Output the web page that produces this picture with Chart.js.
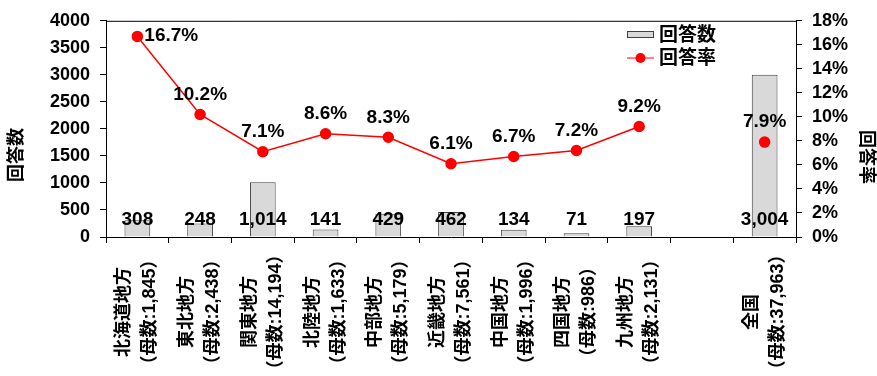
<!DOCTYPE html>
<html>
<head>
<meta charset="utf-8">
<script src="https://cdn.jsdelivr.net/npm/chart.js@4.4.1/dist/chart.umd.min.js"></script>
<style>
  body { margin: 0; background: #fff; }
  #wrap { width: 877px; height: 376px; position: relative; }
</style>
</head>
<body>
<div id="wrap"><canvas id="myChart"></canvas></div>
<script>
var regions = ['北海道地方', '東北地方', '関東地方', '北陸地方', '中部地方', '近畿地方', '中国地方', '四国地方', '九州地方', '', '全国']
var baseCounts = [1845, 2438, 14194, 1633, 5179, 7561, 1996, 986, 2131, null, 37963]
var answers = [308, 248, 1014, 141, 429, 462, 134, 71, 197, null, 3004]
var rates = [16.7, 10.2, 7.1, 8.6, 8.3, 6.1, 6.7, 7.2, 9.2, null, 7.9]
var countTicks = [0, 500, 1000, 1500, 2000, 2500, 3000, 3500, 4000]
var rateTicks = [0, 2, 4, 6, 8, 10, 12, 14, 16, 18]

var FONT = '"Liberation Sans", "Noto Sans CJK JP", sans-serif'
var ctx = document.querySelector("#myChart").getContext("2d")

// two-line x labels: region name, then the base count
function getXLabels(){
    var labels = []
    for(i = 0; i < regions.length; i++){
        if(regions[i] == ''){
            labels.push([''])
        } else {
            labels.push([regions[i], '（母数:' + baseCounts[i].toLocaleString('en-US') + '）'])
        }
    }
    return labels
}

var extras = {
    id: 'extras',
    afterDraw: function(chart){
        var c = chart.ctx
        var area = chart.chartArea
        var xScale = chart.scales.x
        c.save()

        // top frame line
        c.strokeStyle = '#000'
        c.lineWidth = 1
        c.beginPath()
        c.moveTo(area.left, area.top + 0.5)
        c.lineTo(area.right, area.top + 0.5)
        c.stroke()

        c.fillStyle = '#000'

        // rotated category labels, centered
        var labels = chart.data.labels
        c.font = 'bold 18px ' + FONT
        c.textAlign = 'center'
        c.textBaseline = 'middle'
        for(i = 0; i < labels.length; i++){
            var x = xScale.getPixelForTick(i)
            c.save()
            c.translate(x, 312)
            c.rotate(-Math.PI / 2)
            var lines = labels[i]
            for(j = 0; j < lines.length; j++){
                c.fillText(lines[j], 0, (j - (lines.length - 1) / 2) * 26)
            }
            c.restore()
        }

        // axis titles
        c.save()
        c.translate(17, 155)
        c.rotate(-Math.PI / 2)
        c.fillText('回答数', 0, 0)
        c.restore()
        c.save()
        c.translate(866, 157)
        c.rotate(Math.PI / 2)
        c.fillText('回答率', 0, 0)
        c.restore()

        // value labels
        var barMeta = chart.getDatasetMeta(0)
        var lineMeta = chart.getDatasetMeta(1)
        var zeroY = chart.scales.y.getPixelForValue(0)
        c.font = 'bold 19px ' + FONT
        for(i = 0; i < answers.length; i++){
            if(answers[i] == null) continue
            c.textAlign = 'center'
            c.fillText(answers[i].toLocaleString('en-US'), barMeta.data[i].x, zeroY - 17)
        }
        for(i = 0; i < rates.length; i++){
            if(rates[i] == null) continue
            var pt = lineMeta.data[i]
            if(i == 0){
                c.textAlign = 'left'
                c.fillText(rates[i].toFixed(1) + '%', pt.x + 7, pt.y - 1)
            } else {
                c.textAlign = 'center'
                c.fillText(rates[i].toFixed(1) + '%', pt.x, pt.y - 20)
            }
        }

        // legend
        var ds = chart.data.datasets
        c.font = 'bold 19px ' + FONT
        c.textAlign = 'left'
        c.fillStyle = ds[0].backgroundColor
        c.fillRect(627, 31, 27, 7)
        c.strokeStyle = ds[0].borderColor
        c.strokeRect(627.5, 31.5, 26, 6)
        c.fillStyle = '#000'
        c.fillText(ds[0].label, 659, 36)
        c.strokeStyle = ds[1].borderColor
        c.beginPath()
        c.moveTo(627, 58)
        c.lineTo(654, 58)
        c.stroke()
        c.fillStyle = ds[1].pointBackgroundColor
        c.beginPath()
        c.arc(640.5, 58, 5, 0, Math.PI * 2)
        c.fill()
        c.fillStyle = '#000'
        c.fillText(ds[1].label, 659, 59)

        c.restore()
    }
}

var myChart = new Chart(ctx, {
    type: 'bar',
    data: {
        labels: getXLabels(),
        datasets: [{
            label: '回答数',
            data: answers,
            backgroundColor: '#d9d9d9',
            borderColor: '#404040',
            borderWidth: 1,
            barPercentage: 0.41,
            categoryPercentage: 1,
            yAxisID: 'y',
            order: 2
        }, {
            type: 'line',
            label: '回答率',
            data: rates,
            borderColor: '#ff0000',
            borderWidth: 1.5,
            pointBackgroundColor: '#ff0000',
            pointBorderColor: '#ff0000',
            pointRadius: 5,
            spanGaps: false,
            yAxisID: 'y1',
            order: 1
        }]
    },
    options: {
        responsive: true,
        maintainAspectRatio: false,
        animation: false,
        layout: { padding: { top: 14, bottom: 133, left: 0, right: 0 } },
        plugins: {
            legend: { display: false },
            tooltip: { enabled: false }
        },
        scales: {
            x: {
                offset: true,
                ticks: { display: false },
                grid: { offset: true, drawOnChartArea: false, tickLength: 6, color: '#000' },
                border: { color: '#000', width: 1 }
            },
            y: {
                position: 'left',
                min: countTicks[0],
                max: countTicks[countTicks.length - 1],
                afterBuildTicks: function(scale){
                    scale.ticks = countTicks.map(function(v){ return { value: v } })
                },
                ticks: {
                    color: '#000', padding: 10, autoSkip: false,
                    font: { family: FONT, size: 18, weight: 'bold' },
                    callback: function(v){ return String(v) }
                },
                grid: { drawOnChartArea: false, tickLength: 6, color: '#000' },
                border: { color: '#000', width: 1 },
                afterFit: function(scale){ scale.width = 106 }
            },
            y1: {
                position: 'right',
                min: rateTicks[0],
                max: rateTicks[rateTicks.length - 1],
                afterBuildTicks: function(scale){
                    scale.ticks = rateTicks.map(function(v){ return { value: v } })
                },
                ticks: {
                    color: '#000', padding: 10, autoSkip: false,
                    font: { family: FONT, size: 18, weight: 'bold' },
                    callback: function(v){ return v + '%' }
                },
                grid: { drawOnChartArea: false, tickLength: 6, color: '#000' },
                border: { color: '#000', width: 1 },
                afterFit: function(scale){ scale.width = 81 }
            }
        }
    },
    plugins: [extras]
})
</script>
</body>
</html>
